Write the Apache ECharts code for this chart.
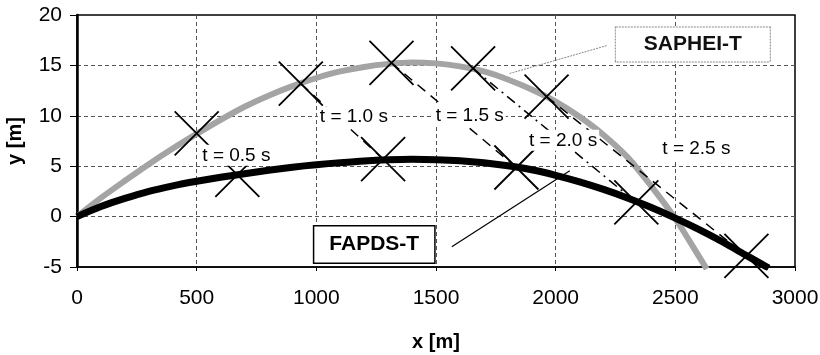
<!DOCTYPE html>
<html>
<head>
<meta charset="utf-8">
<script src="https://cdn.jsdelivr.net/npm/echarts@6/dist/echarts.min.js"></script>
<style>
html, body { margin: 0; padding: 0; background: #fff; }
#chart { width: 820px; height: 355px; }
</style>
</head>
<body>
<div id="chart"></div>
<script>
// SAPHEI-T trajectory (grey)
var saphX = [0, 100, 200, 300, 400, 500, 600, 700, 800, 900, 1000, 1100, 1200, 1300, 1400, 1500, 1600, 1700, 1800, 1900, 2000, 2100, 2200, 2300, 2400, 2500, 2600, 2631];
var saphY = [0, 1.85, 3.55, 5.2, 6.75, 8.2, 9.6, 10.9, 12.0, 12.95, 13.75, 14.4, 14.85, 15.15, 15.3, 15.2, 14.9, 14.4, 13.6, 12.6, 11.4, 9.9, 8.1, 5.9, 3.0, -0.2, -4.0, -5.2];
// FAPDS-T trajectory (black)
var fapdX = [0, 100, 200, 300, 400, 500, 600, 700, 800, 900, 1000, 1100, 1200, 1300, 1400, 1500, 1600, 1700, 1800, 1900, 2000, 2100, 2200, 2300, 2400, 2500, 2600, 2700, 2800, 2890];
var fapdY = [0, 1.0, 1.8, 2.5, 3.05, 3.5, 3.9, 4.25, 4.6, 4.9, 5.15, 5.35, 5.52, 5.63, 5.68, 5.65, 5.55, 5.35, 5.05, 4.65, 4.1, 3.45, 2.7, 1.85, 0.9, -0.15, -1.3, -2.55, -3.9, -5.1];
// positions at t = 0.5 ... 2.5 s
var times = ['0.5', '1.0', '1.5', '2.0', '2.5'];
var saphTx = [500, 935, 1314, 1655, 1962];
var saphTy = [8.25, 13.2, 15.25, 14.7, 11.9];
var fapdTx = [670, 1279, 1836, 2337, 2797];
var fapdTy = [4.14, 5.7, 4.87, 1.4, -3.9];
// where the "t = ..." labels sit
var labelX = [666, 1157, 1641, 2031, 2588];
var labelY = [6.08, 9.9, 10.0, 7.57, 6.7];
// callouts
var saphBox = [2573, 17.07];
var saphLead = [[2213, 16.96], [1808, 14.2]];
var fapdBox = [1242, -2.76];
var fapdLead = [[1566, -3.0], [2059, 4.54]];

var font = 'Liberation Sans, Arial, sans-serif';

function pairs(xs, ys) {
    var out = [];
    for (var i = 0; i < xs.length; i++) out.push([xs[i], ys[i]]);
    return out;
}

var series = [];
series.push({
    name: 'SAPHEI-T', type: 'line', data: pairs(saphX, saphY), smooth: 0.3,
    showSymbol: false, z: 2,
    lineStyle: { color: '#a4a4a4', width: 6 }
});
series.push({
    name: 'FAPDS-T', type: 'line', data: pairs(fapdX, fapdY), smooth: 0.3,
    showSymbol: false, z: 3,
    lineStyle: { color: '#000', width: 7 }
});
// dashed lines joining equal times (t >= 1.0 s)
for (var i = 1; i < times.length; i++) {
    series.push({
        type: 'line', showSymbol: false, z: 4, silent: true,
        data: [[saphTx[i], saphTy[i]], [fapdTx[i], fapdTy[i]]],
        lineStyle: { color: '#000', width: 1.5, type: i == 3 ? [10, 5, 2, 5] : [10, 7] }
    });
}
// callout leader lines
series.push({
    type: 'line', showSymbol: false, z: 4, data: saphLead,
    lineStyle: { color: '#888', width: 1, type: [2, 1] }
});
series.push({
    type: 'line', showSymbol: false, z: 4, data: fapdLead,
    lineStyle: { color: '#000', width: 1.2 }
});
// X markers
series.push({
    type: 'scatter', z: 5,
    symbol: 'path://M0,0L10,10M10,0L0,10', symbolSize: 44,
    itemStyle: { color: 'transparent', borderColor: '#000', borderWidth: 1.8, opacity: 1 },
    data: pairs(saphTx, saphTy).concat(pairs(fapdTx, fapdTy))
});
// time labels
var tLabels = [];
for (var i = 0; i < times.length; i++) tLabels.push([labelX[i], labelY[i], 't = ' + times[i] + ' s']);
var hidden = { color: 'rgba(0,0,0,0)', opacity: 1 };
series.push({
    type: 'scatter', z: 6, symbolSize: 1, itemStyle: hidden, data: tLabels,
    label: {
        show: true, position: 'inside', formatter: function (p) { return p.value[2]; },
        fontFamily: font, fontSize: 19, color: '#000',
        backgroundColor: '#fff', padding: [1, 2]
    }
});
// boxes
series.push({
    type: 'scatter', z: 7, symbolSize: 1, itemStyle: hidden,
    data: [[saphBox[0], saphBox[1], 'SAPHEI-T']],
    label: {
        show: true, position: 'inside', formatter: function (p) { return p.value[2]; },
        fontFamily: font, fontSize: 21, fontWeight: 'bold', color: '#111',
        backgroundColor: '#fff', borderColor: '#888', borderWidth: 1, borderType: [2, 1],
        padding: [7, 28, 6, 28]
    }
});
series.push({
    type: 'scatter', z: 7, symbolSize: 1, itemStyle: hidden,
    data: [[fapdBox[0], fapdBox[1], 'FAPDS-T']],
    label: {
        show: true, position: 'inside', formatter: function (p) { return p.value[2]; },
        fontFamily: font, fontSize: 21, fontWeight: 'bold', color: '#000',
        backgroundColor: '#fff', borderColor: '#000', borderWidth: 1.5,
        padding: [8, 15, 7, 15]
    }
});

var chart = echarts.init(document.getElementById('chart'));
var option = {
    animation: false,
    backgroundColor: '#fff',
    grid: {
        left: 77, right: 25, top: 15, bottom: 88,
        outerBoundsMode: 'none',
        show: true, borderColor: '#000', borderWidth: 1.5
    },
    xAxis: {
        type: 'value', min: 0, max: 3000, interval: 500,
        axisLine: { show: true, onZero: false, lineStyle: { color: '#000', width: 1.5 } },
        axisTick: { show: true, length: 4, lineStyle: { color: '#000' } },
        axisLabel: { fontFamily: font, fontSize: 21, color: '#000', margin: 21, formatter: function (v) { return String(v); } },
        splitLine: { show: true, showMaxLine: false, lineStyle: { color: '#555', width: 1, type: [4, 3] } },
        name: 'x [m]', nameLocation: 'middle', nameGap: 65,
        nameTextStyle: { fontFamily: font, fontSize: 20, fontWeight: 'bold', color: '#000' }
    },
    yAxis: {
        type: 'value', min: -5, max: 20, interval: 5,
        axisLine: { show: true, lineStyle: { color: '#000', width: 2.5 } },
        axisTick: { show: true, length: 7, lineStyle: { color: '#000' } },
        axisLabel: { fontFamily: font, fontSize: 21, color: '#000', margin: 15, formatter: function (v) { return String(v); } },
        splitLine: { show: true, showMaxLine: false, showMinLine: false, lineStyle: { color: '#555', width: 1, type: [4, 3] } },
        name: 'y [m]', nameLocation: 'middle', nameGap: 52,
        nameTextStyle: { fontFamily: font, fontSize: 20, fontWeight: 'bold', color: '#000' }
    },
    series: series
};
chart.setOption(option);
</script>
</body>
</html>
